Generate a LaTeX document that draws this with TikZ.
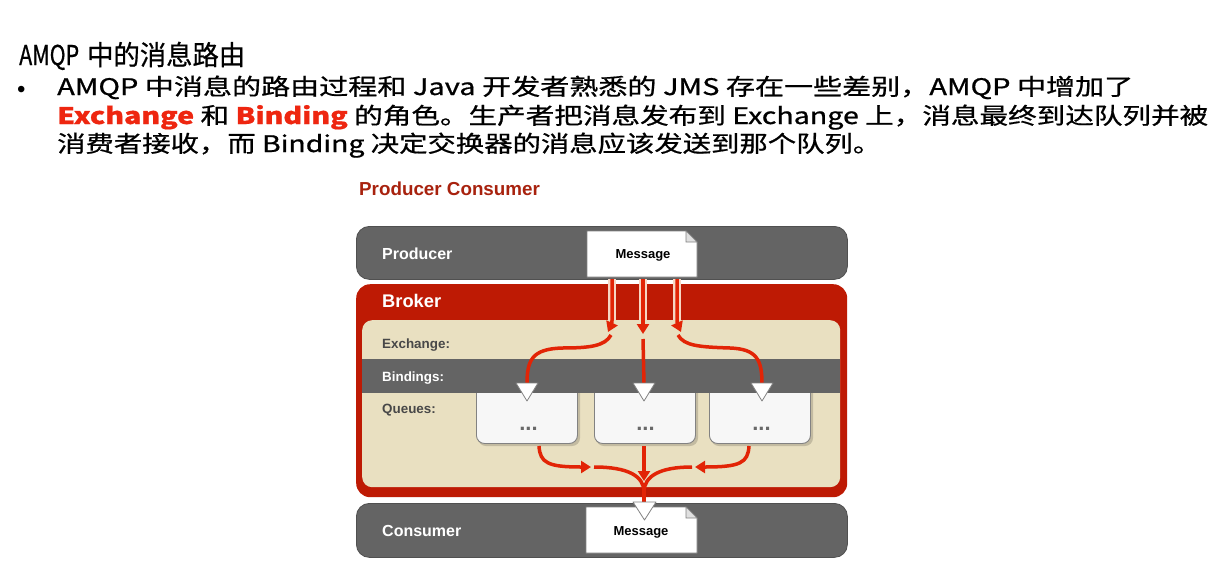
\documentclass[tikz,border=0pt]{standalone}
\usepackage{fontspec}
\usepackage{graphicx}
\newfontfamily\cjkf[FakeBold=0.7]{Noto Sans CJK SC}
\newfontfamily\arialf{Liberation Sans}
\usetikzlibrary{arrows.meta}
\definecolor{slidered}{RGB}{238,38,16}
\definecolor{ttlred}{RGB}{168,34,14}
\definecolor{boxgray}{RGB}{100,100,100}
\definecolor{boxedge}{RGB}{80,80,80}
\definecolor{brokerred}{RGB}{190,26,4}
\definecolor{beige}{RGB}{233,224,193}
\definecolor{flowred}{RGB}{226,36,6}
\definecolor{halo}{RGB}{246,214,196}
\definecolor{labgray}{RGB}{72,72,72}
\definecolor{qfill}{RGB}{247,247,247}
\definecolor{qedge}{RGB}{130,130,130}
\definecolor{dotgray}{RGB}{105,105,105}
\begin{document}
\begin{tikzpicture}[x=1pt,y=-1pt,
  slidetxt/.style={anchor=base west,inner sep=0pt,font=\cjkf},
  graybox/.style={fill=boxgray,draw=boxedge,line width=0.8pt,rounded corners=13pt,inner sep=0pt,anchor=north west},
  panel/.style={inner sep=0pt,anchor=north west},
  queuebox/.style={fill=qfill,draw=qedge,line width=0.9pt,rounded corners=8pt,inner sep=0pt,anchor=north west},
  lblw/.style={anchor=base west,inner sep=0pt,text=white,font=\arialf\bfseries\fontsize{16}{18}\selectfont},
  lblg/.style={anchor=base west,inner sep=0pt,text=labgray,font=\arialf\bfseries\fontsize{13.4}{15}\selectfont},
  msgshape/.style={fill=white,draw=qedge,line width=0.8pt},
  foldshape/.style={fill=black!12,draw=qedge,line width=0.6pt},
  msgtxt/.style={anchor=base,inner sep=0pt,text=black,font=\arialf\bfseries\fontsize{13}{15}\selectfont},
  dotstxt/.style={anchor=base,inner sep=0pt,text=dotgray,font=\arialf\bfseries\fontsize{22}{24}\selectfont},
  tri/.style={fill=white,draw=qedge,line width=0.8pt,line join=round},
  flow/.style={draw=flowred,line width=3.5pt},
  flowarrow/.style={flow,-{Triangle[length=10pt,width=12pt]}},
  haloline/.style={draw=halo,line width=8pt}
]
\useasboundingbox[fill=white] (0,0) rectangle (1226,565);

% ---------- slide text ----------
\node[slidetxt] (titlea) at (19,65) {\fontsize{27.3}{30}\selectfont\resizebox{60pt}{\height}{AMQP}};
\node[slidetxt] (titleb) at (87,65) {\fontsize{27.3}{30}\selectfont\resizebox{158pt}{\height}{中的消息路由}};
\node[anchor=base west,inner sep=0pt,font=\arialf\fontsize{24}{26}\selectfont] (bullet) at (17,97) {•};
\node[slidetxt] (line1) at (57,95) {\fontsize{22.8}{26}\selectfont\resizebox{1076pt}{\height}{AMQP 中消息的路由过程和 Java 开发者熟悉的 JMS 存在一些差别，AMQP 中增加了}};
\node[slidetxt] (line2) at (57,124) {\fontsize{22.8}{26}\selectfont\resizebox{1151pt}{\height}{{\bfseries\color{slidered}Exchange} 和 {\bfseries\color{slidered}Binding} 的角色。生产者把消息发布到 Exchange 上，消息最终到达队列并被}};
\node[slidetxt] (line3) at (57,152) {\fontsize{22.8}{26}\selectfont\resizebox{824pt}{\height}{消费者接收，而 Binding 决定交换器的消息应该发送到那个队列。}};

% ---------- diagram heading ----------
\node[anchor=base west,inner sep=0pt,text=ttlred,font=\arialf\bfseries\fontsize{18.8}{21}\selectfont] (dtitle) at (359,195) {Producer Consumer};

% ---------- producer ----------
\node[graybox,minimum width=491pt,minimum height=53pt] (producer) at (356,226) {};
\node[lblw] (prodlbl) at (382,259) {Producer};

% ---------- broker ----------
\node[panel,fill=brokerred,rounded corners=14pt,minimum width=491pt,minimum height=213pt] (broker) at (356,284) {};
\node[lblw,font=\arialf\bfseries\fontsize{18.3}{20}\selectfont] (brokerlbl) at (382,307) {Broker};
\node[panel,fill=beige,rounded corners=10pt,minimum width=478pt,minimum height=167pt] (inner) at (362,320) {};

% queue shadows and boxes
\fill[black,opacity=0.16,rounded corners=8pt] (478,385) rectangle (580,446);
\fill[black,opacity=0.16,rounded corners=8pt] (596,385) rectangle (698,446);
\fill[black,opacity=0.16,rounded corners=8pt] (711,385) rectangle (813,446);
\node[queuebox,minimum width=101pt,minimum height=60pt] (q1) at (476,383) {};
\node[queuebox,minimum width=101pt,minimum height=60pt] (q2) at (594,383) {};
\node[queuebox,minimum width=101pt,minimum height=60pt] (q3) at (709,383) {};

% bindings band
\node[panel,fill=boxgray,minimum width=478pt,minimum height=34pt] (bind) at (362,359) {};

\node[lblg] (exlbl) at (382,348) {Exchange:};
\node[lblw,font=\arialf\bfseries\fontsize{13.4}{15}\selectfont] (bindlbl) at (382,381) {Bindings:};
\node[lblg] (qlbl) at (382,413) {Queues:};

\node[dotstxt] (d1) at (528.5,430) {...};
\node[dotstxt] (d2) at (645.5,430) {...};
\node[dotstxt] (d3) at (761.5,430) {...};

% ---------- consumer ----------
\node[graybox,minimum width=491pt,minimum height=54pt] (consumer) at (356,503) {};
\node[lblw] (conslbl) at (382,536) {Consumer};

% ---------- messages ----------
\filldraw[msgshape] (587,231) -- (686,231) -- (697,242) -- (697,277) -- (587,277) -- cycle;
\filldraw[foldshape] (686,231) -- (686,242) -- (697,242) -- cycle;
\node[msgtxt] (m1) at (643,258) {Message};

\filldraw[msgshape] (586,507) -- (686,507) -- (697,518) -- (697,553) -- (586,553) -- cycle;
\filldraw[foldshape] (686,507) -- (686,518) -- (697,518) -- cycle;
\node[msgtxt] (m2) at (641,535) {Message};

% ---------- routing flows: message -> exchange ----------
\coordinate (e1) at (612,279);
\coordinate (e2) at (643,279);
\coordinate (e3) at (677,279);
\draw[haloline] (e1) -- (612,320);
\draw[haloline] (e2) -- (643,320);
\draw[haloline] (e3) -- (677,320);
\draw[flowarrow] (e1) -- (612,316) .. controls (612,323) .. (608,332);
\draw[flowarrow] (e2) -- (643,334);
\draw[flowarrow] (e3) -- (677,316) .. controls (677,323) .. (681,332);

% exchange -> bindings
\coordinate (t1) at (527,384);
\coordinate (t2) at (644,384);
\coordinate (t3) at (762,384);
\draw[flow] (611,335) .. controls (605,346) and (590,348) .. (562,348) .. controls (532,349) and (527,360) .. (t1);
\draw[flow] (643,339) -- (t2);
\draw[flow] (678,335) .. controls (684,346) and (700,347) .. (730,348) .. controls (757,349) and (762,360) .. (t3);

% binding triangles
\filldraw[tri] (516,383) -- (538,383) -- (527,401) -- cycle;
\filldraw[tri] (633,383) -- (655,383) -- (644,401) -- cycle;
\filldraw[tri] (751,383) -- (773,383) -- (762,401) -- cycle;

% queues -> consumer
\draw[flowarrow] (539,446) .. controls (540,463) and (548,467) .. (591,467);
\draw[flowarrow] (749,446) .. controls (748,463) and (740,467) .. (695,467);
\draw[flowarrow] (644,446) -- (644,481);
\draw[flow] (594,467) .. controls (628,467) and (644,476) .. (644,492);
\draw[flow] (692,467) .. controls (660,467) and (644,476) .. (644,492);
\draw[flow] (644,484) -- (644,503);
\filldraw[tri] (633,502) -- (656,502) -- (644.5,520) -- cycle;
\end{tikzpicture}
\end{document}
